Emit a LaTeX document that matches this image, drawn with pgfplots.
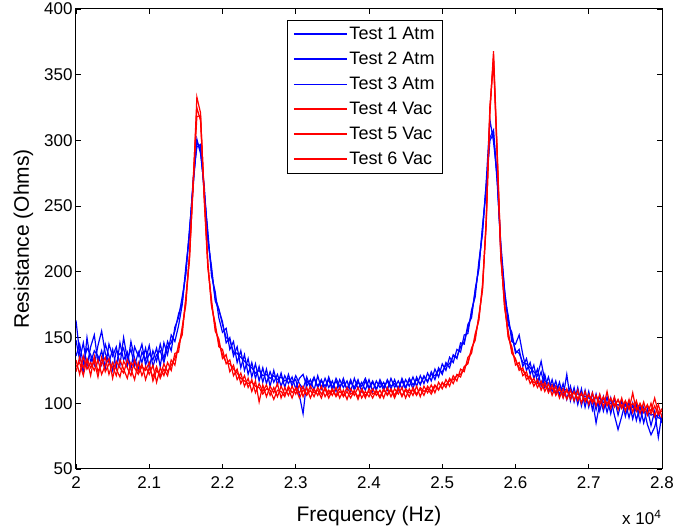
\documentclass[border=0pt]{standalone}
\usepackage{pgfplots}
\pgfplotsset{compat=1.18}
\usepackage{pgfplotstable}
\usepackage{fontspec}
\setmainfont{Liberation Sans}

% frequency (Hz), three tests in air, three in vacuum (Ohms)
\pgfplotstableread{
f b1 b2 b3 r1 r2 r3
20000 148 136 163 124 133 128
20050 133 145 138 135 122 131
20100 146 130 123 127 136 121
20150 128 142 150 133 126 134
20200 143 137 131 121 131 127
20250 152 129 140 136 125 132
20300 131 144 136 124 133 120
20350 140 155 129 130 122 135
20400 127 138 145 135 129 124
20450 145 131 136 122 134 130
20500 136 141 125 131 119 128
20550 143 127 140 126 132 121
20600 129 146 137 120 127 133
20650 150 133 142 132 123 126
20700 134 139 128 127 133 119
20750 141 126 147 121 126 131
20800 128 143 134 133 118 127
20850 139 136 126 124 131 122
20900 131 145 139 130 121 128
20950 142 129 133 118 128 125
21000 127 138 144 127 122 131
21050 140 133 128 120 129 117
21100 132 142 137 128 116 125
21150 145 128 140 119 127 121
21200 134 146 131 126 121 130
21250 147 137 143 121 131 124
21300 140 152 146 133 125 129
21350 158 147 155 129 138 134
21400 165 159 168 145 139 143
21450 181 175 176 152 158 156
21500 198 204 201 181 175 179
21550 233 228 231 209 214 213
21600 265 271 268 270 265 268
21650 301 295 299 325 333 318
21700 290 297 293 315 321 319
21750 266 260 263 261 255 258
21800 224 231 226 207 203 206
21850 204 197 201 174 179 175
21900 178 185 180 161 155 158
21950 171 165 172 143 149 146
22000 162 154 160 141 134 137
22050 146 157 150 130 137 131
22100 150 141 148 133 124 130
22150 136 147 139 121 129 126
22200 143 131 138 126 118 123
22250 127 140 135 115 123 119
22300 137 125 132 121 113 117
22350 122 134 129 112 119 115
22400 131 120 127 118 109 116
22450 119 130 123 108 117 113
22500 128 117 125 115 101 112
22550 116 127 121 109 114 107
22600 126 115 122 114 105 111
22650 113 124 119 106 113 110
22700 125 116 121 112 108 103
22750 114 122 118 105 115 110
22800 123 113 120 113 104 109
22850 112 121 117 107 112 105
22900 122 115 119 111 106 113
22950 113 120 116 104 113 108
23000 121 111 118 112 107 111
23050 115 119 106 108 114 104
23100 111 122 92 113 105 110
23150 120 113 117 106 112 107
23200 112 118 114 110 104 113
23250 119 110 120 105 111 108
23300 113 121 112 112 106 110
23350 118 111 117 107 113 104
23400 110 119 113 111 105 112
23450 120 112 118 104 110 107
23500 112 117 110 110 106 111
23550 117 109 119 106 112 105
23600 111 118 113 112 104 109
23650 119 112 116 105 110 106
23700 110 117 111 109 103 112
23750 116 109 118 104 111 107
23800 112 119 110 110 106 109
23850 118 111 116 103 112 105
23900 109 116 113 111 104 110
23950 117 110 119 106 109 104
24000 111 118 112 109 105 111
24050 116 109 117 104 111 107
24100 110 117 111 110 106 109
24150 118 112 116 105 110 104
24200 112 116 110 111 104 110
24250 117 110 118 106 112 107
24300 111 119 113 110 105 111
24350 118 112 115 104 111 106
24400 110 117 112 111 107 112
24450 119 111 117 106 112 105
24500 112 118 111 110 104 111
24550 118 113 119 105 111 108
24600 111 120 114 112 106 110
24650 120 113 118 107 113 106
24700 114 121 115 111 105 112
24750 121 115 120 106 113 109
24800 116 123 117 113 108 111
24850 124 117 122 109 114 107
24900 118 126 121 114 108 113
24950 127 120 125 110 116 111
25000 122 130 124 116 111 115
25050 131 125 129 112 118 114
25100 127 135 130 119 113 117
25150 137 131 136 115 121 118
25200 134 141 135 122 117 121
25250 146 139 143 120 126 122
25300 145 152 147 128 124 127
25350 160 153 157 130 135 131
25400 165 171 168 142 138 141
25450 187 181 185 148 153 150
25500 202 208 204 167 163 165
25550 235 229 233 186 191 188
25600 262 268 266 240 235 238
25650 300 316 302 320 326 322
25700 305 299 308 368 360 364
25750 268 273 271 292 287 290
25800 221 215 219 214 210 212
25850 187 181 186 173 178 175
25900 160 167 164 155 150 152
25950 154 147 151 138 143 140
26000 138 145 140 134 129 133
26050 141 152 138 125 131 127
26100 128 137 131 127 121 125
26150 134 125 130 118 124 121
26200 122 131 127 121 115 119
26250 129 119 124 113 119 116
26300 116 126 121 118 112 115
26350 124 113 132 110 117 114
26400 112 122 117 116 109 113
26450 120 109 115 108 115 111
26500 109 118 114 114 106 111
26550 117 107 113 106 113 109
26600 106 116 112 112 104 110
26650 115 105 111 104 111 107
26700 103 122 110 111 103 109
26750 113 102 109 103 110 106
26800 101 112 108 109 102 108
26850 112 99 107 102 110 104
26900 98 111 106 108 100 107
26950 110 97 105 101 109 103
27000 97 109 104 107 99 106
27050 108 95 103 100 108 102
27100 95 107 85 106 98 105
27150 106 94 100 99 107 101
27200 94 105 101 105 97 104
27250 105 93 99 98 109 100
27300 92 104 100 104 96 103
27350 104 91 98 97 105 99
27400 91 80 99 103 95 102
27450 102 90 97 96 104 98
27500 90 101 98 102 94 101
27550 101 89 96 95 103 97
27600 88 100 97 108 93 100
27650 99 87 94 94 102 96
27700 86 98 96 100 92 99
27750 97 85 93 93 101 95
27800 84 96 94 99 91 98
27850 76 83 91 92 100 94
27900 82 94 92 98 90 104
27950 93 74 89 91 99 93
28000 85 92 88 96 89 94
}\datatable

\begin{document}
\begin{tikzpicture}
\begin{axis}[
    scale only axis,
    width=586pt, height=460pt,
    xmin=20000, xmax=28000,
    ymin=50, ymax=400,
    xtick={20000,21000,...,28000},
    xticklabels={2,2.1,2.2,2.3,2.4,2.5,2.6,2.7,2.8},
    scaled x ticks=false,
    ytick={50,100,...,400},
    /pgf/number format/assume math mode=true,
    tick label style={font=\fontsize{17}{19}\selectfont},
    xticklabel style={yshift=-4pt},
    label style={font=\fontsize{21}{24}\selectfont},
    xlabel={Frequency (Hz)},
    ylabel={Resistance (Ohms)},
    xlabel style={at={(rel axis cs:0.5,0)}, anchor=base, yshift=-52pt},
    ylabel style={at={([xshift=-47pt]rel axis cs:0,0.5)}, anchor=base},
    tick align=inside,
    major tick length=5pt,
    tick style={black, line width=0.8pt},
    axis line style={black, line width=1pt},
    legend cell align=left,
    legend style={at={(0.36,0.976)}, anchor=north west,
        font=\fontsize{18}{20}\selectfont,
        row sep=7pt, inner xsep=6pt, inner ysep=5pt},
    legend image post style={xscale=3.1, line width=1.4pt},
    every axis plot/.append style={line width=1.2pt},
]
\addplot[blue] table[x=f, y=b1] {\datatable};
\addlegendentry{Test 1 Atm}
\addplot[blue] table[x=f, y=b2] {\datatable};
\addlegendentry{Test 2 Atm}
\addplot[blue] table[x=f, y=b3] {\datatable};
\addlegendentry{Test 3 Atm}
\addplot[red] table[x=f, y=r1] {\datatable};
\addlegendentry{Test 4 Vac}
\addplot[red] table[x=f, y=r2] {\datatable};
\addlegendentry{Test 5 Vac}
\addplot[red] table[x=f, y=r3] {\datatable};
\addlegendentry{Test 6 Vac}
\end{axis}
\node[anchor=base east, font=\fontsize{17}{19}\selectfont]
    at ([xshift=3pt, yshift=-56pt]current axis.south east) {x 10\textsuperscript{4}};
\pgfresetboundingbox
\path[use as bounding box] ([xshift=-76pt,yshift=-61pt]current axis.south west)
    rectangle ([xshift=13pt,yshift=9pt]current axis.north east);
\end{tikzpicture}
\end{document}
